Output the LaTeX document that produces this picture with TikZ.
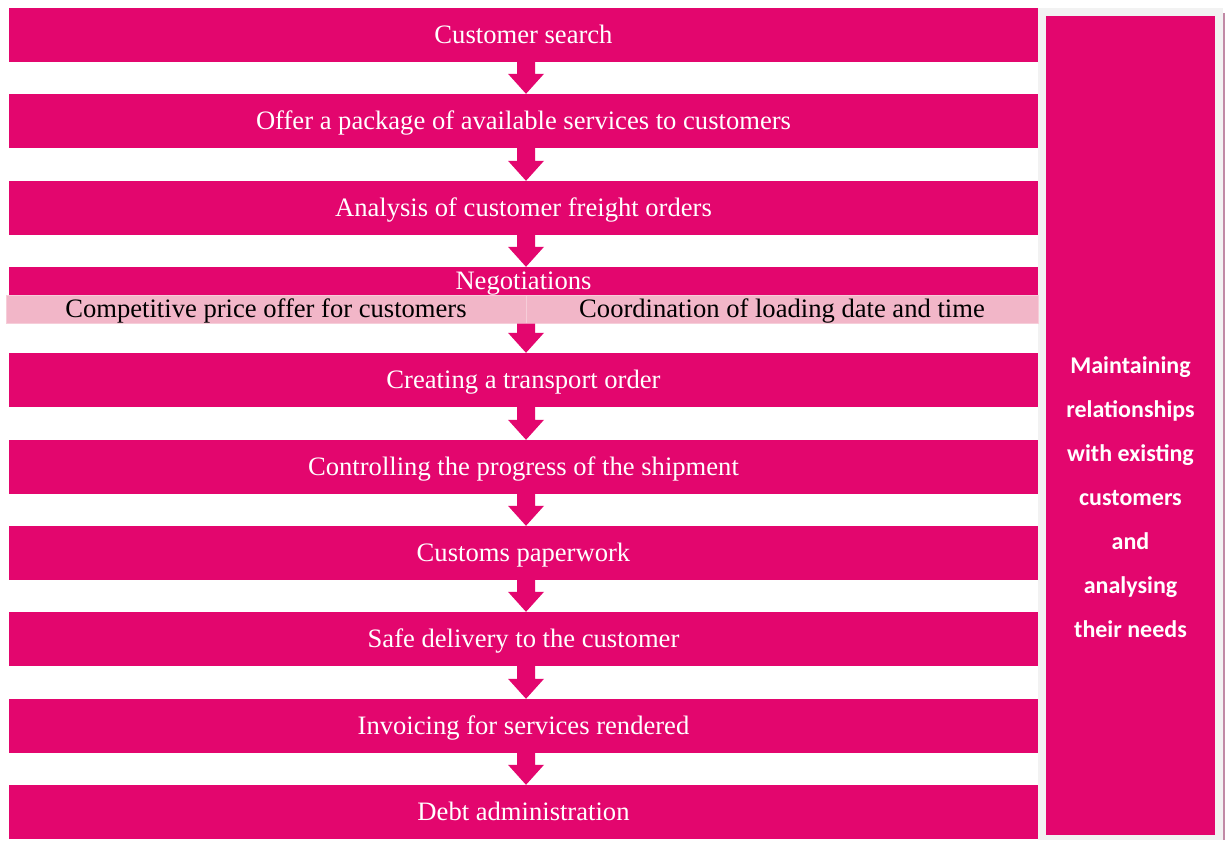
\documentclass[tikz,border=0pt]{standalone}
\usepackage{fontspec}
\setmainfont{Liberation Serif}
\newfontfamily\panelfont{Carlito}
\usetikzlibrary{calc}
\definecolor{pk}{HTML}{E3066E}
\definecolor{lpk}{HTML}{F2B6C8}
\definecolor{lpkedge}{HTML}{F6CDD9}
\definecolor{panelgray}{HTML}{F2F2F2}
\definecolor{shadowline}{HTML}{C18AA6}

% block arrow between two anchors; the arrow is centred on the x of the target
\newcommand\flowarrow[2]{%
  \fill[pk] let \p1=(#1), \p2=($(#2)+(2.5,0)$) in
    (\x2-9pt,\y1) -- (\x2-9pt,\y2+20pt) -- (\x2-18pt,\y2+20pt) -- (\x2,\y2)
    -- (\x2+18pt,\y2+20pt) -- (\x2+9pt,\y2+20pt) -- (\x2+9pt,\y1) -- cycle;}

\begin{document}
\begin{tikzpicture}[x=1pt,y=-1pt,
  stepbox/.style={fill=pk, text=white, minimum width=1029pt, minimum height=54pt,
    inner sep=0pt, text height=17pt, text depth=0pt,
    font=\fontsize{26.6}{30}\selectfont},
  negbox/.style={stepbox, minimum height=28pt},
  subcell/.style={fill=lpk, draw=lpkedge, line width=1pt, text=black,
    minimum height=28pt, inner sep=0pt, text height=17pt, text depth=0pt,
    font=\fontsize{26.6}{30}\selectfont},
  paneltext/.style={text=white, align=center, inner sep=0pt,
    font=\panelfont\bfseries\fontsize{24}{44}\selectfont}]

\useasboundingbox (0,0) rectangle (1225,840);
\fill[white] (0,0) rectangle (1225,840);

% side panel
\fill[shadowline] (1222.5,13) rectangle (1225,840);
\fill[panelgray] (1038,8) rectangle (1222.7,840);
\node[fill=pk, minimum width=169pt, minimum height=819pt, inner sep=0pt] (panel) at (1130.5,425.5) {};
\node[paneltext] (paneltxt) at (1130.5,497) {Maintaining\\relationships\\with existing\\customers\\and\\analysing\\their needs};

% process steps
\node[stepbox] (s1) at (523.5,35) {Customer search};
\node[stepbox] (s2) at (523.5,121) {Offer a package of available services to customers};
\node[stepbox] (s3) at (523.5,208) {Analysis of customer freight orders};
\node[negbox] (neg) at (523.5,281) {Negotiations};
\node[subcell, minimum width=520pt] (compL) at (266,309) {Competitive price offer for customers};
\node[subcell, minimum width=512pt] (compR) at (782,309) {Coordination of loading date and time};
\node[stepbox] (s5) at (523.5,380) {Creating a transport order};
\node[stepbox] (s6) at (523.5,467) {Controlling the progress of the shipment};
\node[stepbox] (s7) at (523.5,553) {Customs paperwork};
\node[stepbox] (s8) at (523.5,639) {Safe delivery to the customer};
\node[stepbox] (s9) at (523.5,726) {Invoicing for services rendered};
\node[stepbox] (s10) at (523.5,812) {Debt administration};

% connectors
\flowarrow{s1.south}{s2.north}
\flowarrow{s2.south}{s3.north}
\flowarrow{s3.south}{neg.north}
\flowarrow{compL.south east}{s5.north}
\flowarrow{s5.south}{s6.north}
\flowarrow{s6.south}{s7.north}
\flowarrow{s7.south}{s8.north}
\flowarrow{s8.south}{s9.north}
\flowarrow{s9.south}{s10.north}
\end{tikzpicture}
\end{document}
